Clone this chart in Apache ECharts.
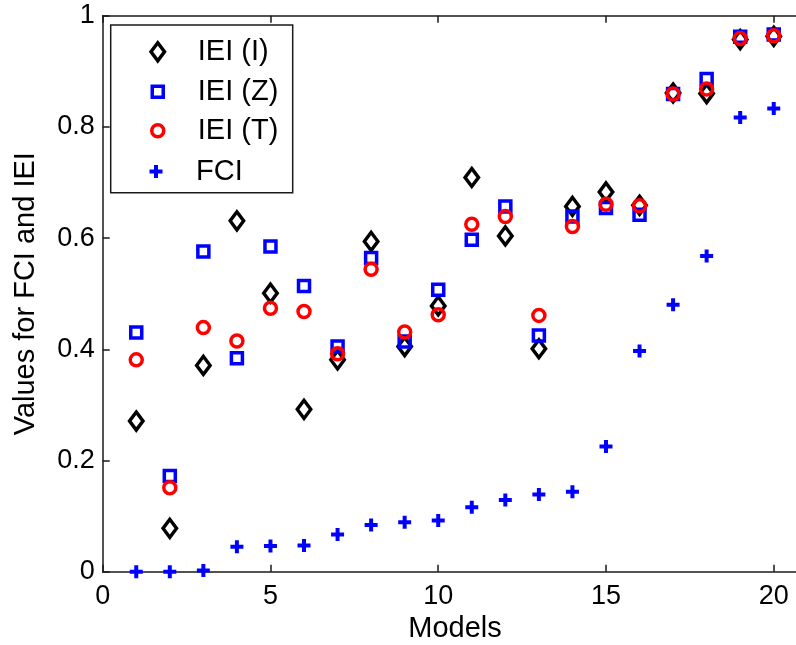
<!DOCTYPE html>
<html>
<head>
<meta charset="utf-8">
<script src="https://cdn.jsdelivr.net/npm/echarts@6/dist/echarts.min.js"></script>
<style>
  html, body { margin: 0; padding: 0; background: #fff; }
  #chart { width: 796px; height: 645px; }
</style>
</head>
<body>
<div id="chart"></div>
<script>
// Model index 1..20
const models = [1, 2, 3, 4, 5, 6, 7, 8, 9, 10, 11, 12, 13, 14, 15, 16, 17, 18, 19, 20];

// Index values per model
const ieiI = [0.271, 0.078, 0.371, 0.631, 0.501, 0.292, 0.381, 0.594, 0.405, 0.478,
              0.709, 0.604, 0.401, 0.657, 0.683, 0.659, 0.861, 0.860, 0.957, 0.963];
const ieiZ = [0.430, 0.172, 0.576, 0.384, 0.585, 0.514, 0.405, 0.564, 0.414, 0.507,
              0.597, 0.657, 0.425, 0.639, 0.654, 0.642, 0.859, 0.886, 0.962, 0.966];
const ieiT = [0.381, 0.151, 0.439, 0.415, 0.474, 0.468, 0.392, 0.544, 0.431, 0.462,
              0.625, 0.639, 0.461, 0.621, 0.661, 0.658, 0.859, 0.868, 0.959, 0.964];
const fci  = [0.000, 0.000, 0.002, 0.045, 0.046, 0.047, 0.067, 0.084, 0.089, 0.092,
              0.116, 0.129, 0.139, 0.144, 0.225, 0.397, 0.480, 0.568, 0.817, 0.833];

const seriesNames = ['IEI (I)', 'IEI (Z)', 'IEI (T)', 'FCI'];
const yTicks = [0, 0.2, 0.4, 0.6, 0.8, 1];
const xTickStep = 5;

const FONT = "'Liberation Sans', Arial, Helvetica, sans-serif";
const DIAMOND = 'path://M7,0L14,10L7,20L0,10Z';
const SQUARE = 'path://M0,0H10V10H0Z';
const PLUS = 'path://M4.5,0H8.5V4.5H13V8.5H8.5V13H4.5V8.5H0V4.5H4.5Z';

const pairs = (ys) => models.map((m, i) => [m, ys[i]]);

const axisLineStyle = { color: '#1a1a1a', width: 1.5 };

// One legend per entry so each icon keeps its own size; the frame is drawn separately.
const ICON_CENTER_X = 156;
const TEXT_START_X = 196;
function legendEntry(name, icon, w, h, top, borderWidth) {
  return {
    orient: 'vertical',
    left: ICON_CENTER_X - w / 2,
    top: top,
    padding: 0,
    itemWidth: w,
    itemHeight: h,
    symbolKeepAspect: false,
    selectedMode: false,
    data: [{ name: name, icon: icon }],
    itemStyle: { borderWidth: borderWidth, opacity: 1 },
    textStyle: {
      fontFamily: FONT, fontSize: 29, color: '#000',
      padding: [0, 0, 0, TEXT_START_X - (ICON_CENTER_X + w / 2) - 5]
    }
  };
}

const option = {
  animation: false,
  backgroundColor: '#fff',
  grid: {
    left: 102.7, right: -11.3, top: 15.7, bottom: 73.3,
    containLabel: false, outerBoundsMode: 'none'
  },
  xAxis: [{
    type: 'value',
    min: 0, max: 21, interval: xTickStep,
    position: 'bottom',
    name: 'Models',
    nameLocation: 'middle',
    nameGap: 39,
    nameTextStyle: { fontFamily: FONT, fontSize: 29, color: '#000' },
    axisLine: { show: true, lineStyle: axisLineStyle },
    axisTick: { show: true, inside: true, length: 7, lineStyle: axisLineStyle },
    axisLabel: {
      fontFamily: FONT, fontSize: 27, color: '#000', margin: 11,
      formatter: (v) => (v % xTickStep === 0 ? String(v) : '')
    },
    splitLine: { show: false }
  }, {
    type: 'value',
    min: 0, max: 21, interval: xTickStep,
    position: 'top',
    axisLine: { show: true, onZero: false, lineStyle: axisLineStyle },
    axisTick: { show: true, inside: true, length: 7, lineStyle: axisLineStyle },
    axisLabel: { show: false },
    splitLine: { show: false }
  }],
  yAxis: [{
    type: 'value',
    min: yTicks[0], max: yTicks[yTicks.length - 1], interval: 0.2,
    name: 'Values for FCI and IEI',
    nameLocation: 'middle',
    nameGap: 62,
    nameTextStyle: { fontFamily: FONT, fontSize: 29, color: '#000' },
    axisLine: { show: true, lineStyle: axisLineStyle },
    axisTick: { show: true, inside: true, length: 7, lineStyle: axisLineStyle },
    axisLabel: { fontFamily: FONT, fontSize: 27, color: '#000', margin: 8 },
    splitLine: { show: false }
  }],
  graphic: [{
    type: 'rect',
    z: 3,
    shape: { x: 110.7, y: 25, width: 182, height: 167.7 },
    style: { fill: '#fff', stroke: '#1a1a1a', lineWidth: 1.5 }
  }],
  legend: [
    legendEntry(seriesNames[0], DIAMOND, 13.5, 18, 37.3, 3.5),
    legendEntry(seriesNames[1], SQUARE, 11, 11, 77.3, 3.5),
    legendEntry(seriesNames[2], 'circle', 12, 12, 116.3, 3.5),
    legendEntry(seriesNames[3], PLUS, 13, 13, 157, 0)
  ],
  series: [
    {
      name: seriesNames[0], type: 'scatter', data: pairs(ieiI),
      symbol: DIAMOND, symbolSize: [13.5, 18],
      itemStyle: { color: 'rgba(0,0,0,0)', borderColor: '#000', borderWidth: 3.5, opacity: 1 }
    },
    {
      name: seriesNames[1], type: 'scatter', data: pairs(ieiZ),
      symbol: SQUARE, symbolSize: 11,
      itemStyle: { color: 'rgba(0,0,0,0)', borderColor: '#0000ff', borderWidth: 3.5, opacity: 1 }
    },
    {
      name: seriesNames[2], type: 'scatter', data: pairs(ieiT),
      symbol: 'circle', symbolSize: 12,
      itemStyle: { color: 'rgba(0,0,0,0)', borderColor: '#ff0000', borderWidth: 3.5, opacity: 1 }
    },
    {
      name: seriesNames[3], type: 'scatter', data: pairs(fci),
      symbol: PLUS, symbolSize: 13,
      itemStyle: { color: '#0000ff', borderWidth: 0, opacity: 1 }
    }
  ]
};

const chart = echarts.init(document.getElementById('chart'), null, { renderer: 'canvas' });
chart.setOption(option);
</script>
</body>
</html>
